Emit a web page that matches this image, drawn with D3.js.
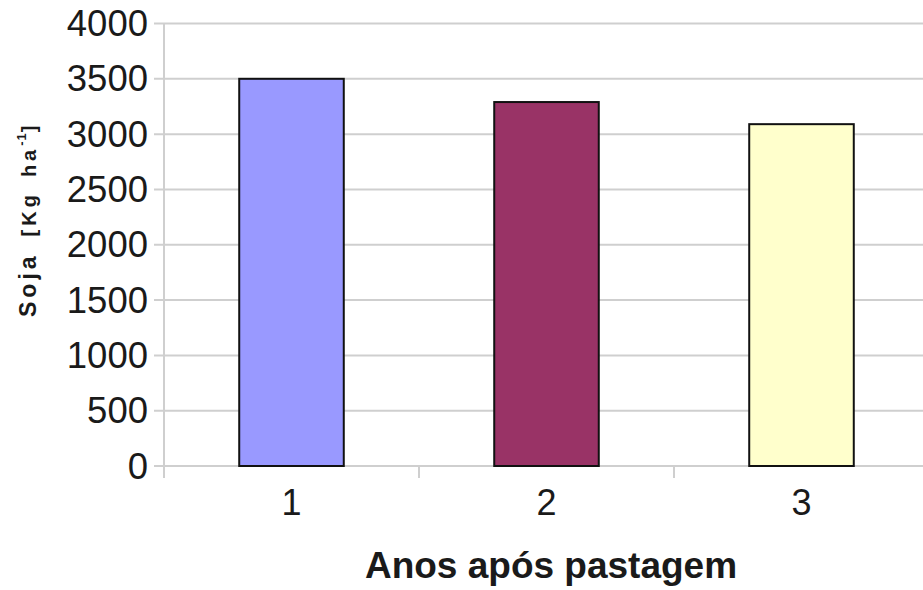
<!DOCTYPE html>
<html>
<head>
<meta charset="utf-8">
<script src="https://cdn.jsdelivr.net/npm/d3@7"></script>
<style>
  html, body { margin: 0; padding: 0; background: #fff; }
  svg { display: block; font-family: "Liberation Sans", Arial, sans-serif; }
</style>
</head>
<body>
<svg id="chart" width="923" height="590"></svg>
<script>
// Soybean yield per year after pasture
const categories = ["1", "2", "3"];
const yieldValues = [3500, 3290, 3090];
const barColors = ["#9999FF", "#993366", "#FFFFCC"];
const yTicks = [0, 500, 1000, 1500, 2000, 2500, 3000, 3500, 4000];

const svg = d3.select("#chart");
const margin = { left: 164, top: 23.5, bottom: 466 };
const plotRight = 929;

const x = d3.scaleBand().domain(categories).range([margin.left, plotRight]).paddingInner(0.59).paddingOuter(0.295);
const y = d3.scaleLinear().domain([0, 4000]).range([margin.bottom, margin.top]);

const gridColor = "#cfcfcf";
const textColor = "#1a1a1a";

// horizontal gridlines with short ticks left of the axis
svg.append("g").selectAll("line").data(yTicks).join("line")
  .attr("x1", margin.left - 10).attr("x2", plotRight)
  .attr("y1", d => y(d)).attr("y2", d => y(d))
  .attr("stroke", gridColor).attr("stroke-width", 2);

// y axis line
svg.append("line")
  .attr("x1", margin.left).attr("x2", margin.left)
  .attr("y1", margin.top).attr("y2", margin.bottom + 11)
  .attr("stroke", gridColor).attr("stroke-width", 2);

// category separator ticks below the baseline
const sepX = [margin.left].concat(categories.slice(1).map((c, i) => (x(categories[i]) + x.bandwidth() + x(c)) / 2));
svg.append("g").selectAll("line").data(sepX).join("line")
  .attr("x1", d => d).attr("x2", d => d)
  .attr("y1", margin.bottom).attr("y2", margin.bottom + 12)
  .attr("stroke", gridColor).attr("stroke-width", 2);

// y tick labels
svg.append("g").selectAll("text").data(yTicks).join("text")
  .attr("x", 148).attr("y", d => y(d) + 12.5)
  .attr("text-anchor", "end")
  .attr("font-size", 36.5).attr("fill", textColor)
  .text(d => d);

// bars
svg.append("g").selectAll("rect").data(yieldValues).join("rect")
  .attr("x", (d, i) => x(categories[i]))
  .attr("y", d => y(d))
  .attr("width", x.bandwidth())
  .attr("height", d => y(0) - y(d))
  .attr("fill", (d, i) => barColors[i])
  .attr("stroke", "#111").attr("stroke-width", 2);

// category labels
svg.append("g").selectAll("text").data(categories).join("text")
  .attr("x", d => x(d) + x.bandwidth() / 2)
  .attr("y", 515)
  .attr("text-anchor", "middle")
  .attr("font-size", 36).attr("fill", textColor)
  .text(d => d);

// x axis title
svg.append("text")
  .attr("x", 551).attr("y", 578)
  .attr("text-anchor", "middle")
  .attr("font-size", 37).attr("font-weight", "bold").attr("fill", textColor)
  .text("Anos após pastagem");

// y axis title
const yTitle = svg.append("text")
  .attr("transform", "translate(36,317) rotate(-90)")
  .attr("text-anchor", "start")
  .attr("font-weight", "bold").attr("fill", textColor);
yTitle.append("tspan").attr("font-size", 23).attr("letter-spacing", 4).text("Soja");
yTitle.append("tspan").attr("font-size", 20).attr("letter-spacing", 4).attr("dx", 16).text("[Kg");
yTitle.append("tspan").attr("font-size", 20).attr("letter-spacing", 4).attr("dx", 14).text("ha");
yTitle.append("tspan").attr("font-size", 13).attr("dy", -10).attr("letter-spacing", 1).text("-1");
yTitle.append("tspan").attr("font-size", 20).attr("dy", 10).text("]");
</script>
</body>
</html>
